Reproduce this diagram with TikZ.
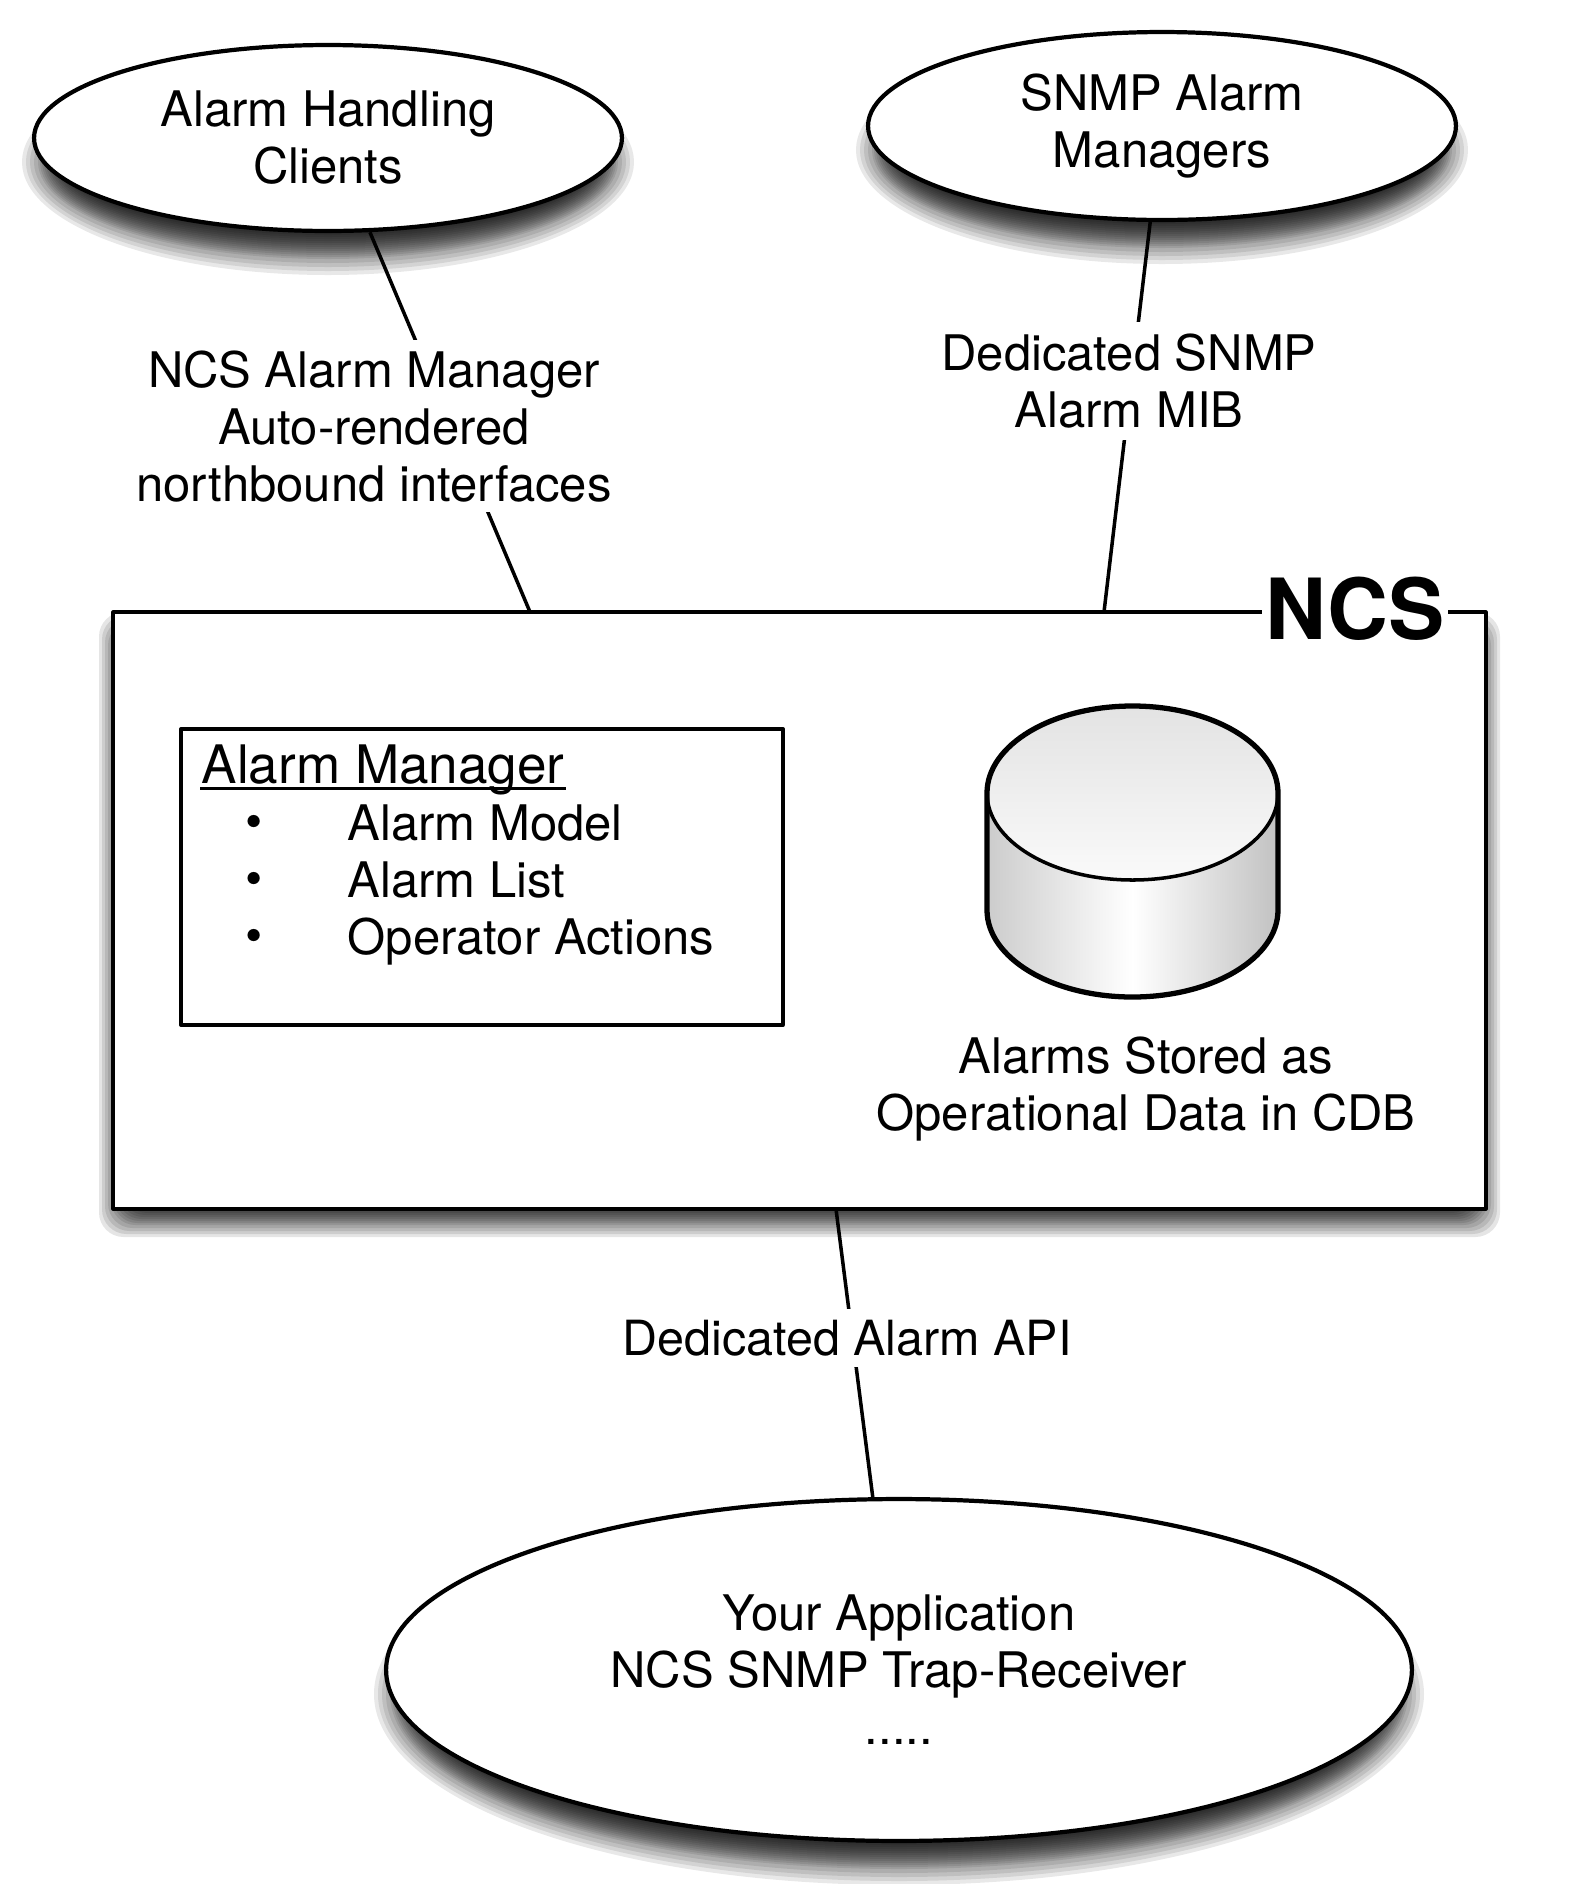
\documentclass[tikz,border=0pt]{standalone}
\usepackage{fontspec}
\setmainfont{TeX Gyre Heros}
\usetikzlibrary{shapes.geometric}
\newcommand{\bodyfont}{\fontsize{27.9}{32.4}\selectfont}
% soft shadow under an oval: centre x, centre y, x radius, y radius
\newcommand{\ovalshadow}[4]{
    \foreach \d in {-24,-22,...,4,8,12,16,20}
        \fill[black, opacity=0.09] (#1, #2+24) ellipse[x radius={#3-8+\d}, y radius={#4+\d}];
}
\begin{document}
\begin{tikzpicture}[x=0.02cm, y=-0.02cm, line width=2pt, line join=round,
    every node/.style={font=\bodyfont, align=center},
    endpoint/.style={ellipse, draw, fill=white, inner sep=0pt, line width=2.4pt},
    label/.style={fill=white, inner sep=0pt, text depth=0pt},
    item/.style={anchor=base west, inner sep=0pt},
    dot/.style={inner sep=0pt, font=\fontsize{28}{30}\selectfont}]
    \useasboundingbox (0, 0) rectangle (1580, 1884);
    \fill[white] (0, 0) rectangle (1580, 1884);
    % shadows
    \ovalshadow{328}{138}{294}{93}
    \ovalshadow{1162}{126}{294}{94}
    \ovalshadow{899}{1670}{513}{171}
    \foreach \d in {-14,-12,...,2,5,8,11,14}
        \fill[black, opacity=0.1, rounded corners=14] (113-\d, 612+14-\d) rectangle (1486+\d, 1209+14+\d);
    % outer nodes
    \node[endpoint, minimum width=11.76cm, minimum height=3.72cm] (clients) at (328, 138) {Alarm Handling\\Clients};
    \node[endpoint, minimum width=11.76cm, minimum height=3.76cm] (managers) at (1162, 126) {SNMP Alarm\\Managers};
    \node[endpoint, minimum width=20.52cm, minimum height=6.84cm] (app) at (899, 1670) {Your Application\\NCS SNMP Trap-Receiver\\.....};
    \node[draw, fill=white, minimum width=27.46cm, minimum height=11.94cm] (ncs) at (799.5, 910.5) {};
    % connectors
    \coordinate (ncsleft) at (530, 612);
    \coordinate (ncsright) at (1104, 612);
    \coordinate (ncsbottom) at (836, 1209);
    \coordinate (apptop) at (873, 1499);
    \draw (clients.-66) -- (ncsleft);
    \draw (managers.-97) -- (ncsright);
    \draw (ncsbottom) -- (apptop);
    \node[label, minimum width=9.6cm, minimum height=3.46cm] (northbound) at (374, 426) {NCS Alarm Manager\\Auto-rendered\\northbound interfaces};
    \node[label, minimum width=7.7cm, minimum height=2.36cm] (snmpmib) at (1129, 381) {Dedicated SNMP\\Alarm MIB};
    \node[label, minimum width=9.2cm, minimum height=1.16cm, font=\fontsize{27.6}{32.4}\selectfont] (alarmapi) at (847, 1338) {Dedicated Alarm API};
    \node[fill=white, inner sep=0pt, minimum width=3.72cm, font=\fontsize{48}{50}\selectfont\bfseries] (ncstitle) at (1355, 609) {NCS};
    % alarm manager box
    \node[draw, minimum width=12.04cm, minimum height=5.92cm] (manager) at (482, 877) {};
    \node[item, font=\fontsize{30.2}{34}\selectfont] (title) at (200, 783) {Alarm Manager};
    \draw ([yshift=-3pt]title.base west) -- ([yshift=-3pt]title.base east);
    \node[item] (model) at (346, 840) {Alarm Model};
    \node[item] (list) at (346, 897) {Alarm List};
    \node[item] (actions) at (346, 954) {Operator Actions};
    \node[dot] (dota) at (254, 827) {\textbullet};
    \node[dot] (dotb) at (254, 884) {\textbullet};
    \node[dot] (dotc) at (254, 941) {\textbullet};
    % database
    \fill[left color=black!20, right color=black!24, middle color=white] (987, 793) -- (987, 910) arc[start angle=180, end angle=0, x radius=145.5, y radius=87] -- (1278, 793) -- cycle;
    \shade[top color=black!11, bottom color=black!2] (1132.5, 793) ellipse[x radius=145.5, y radius=87];
    \draw (1132.5, 793) ellipse[x radius=145.5, y radius=87];
    \draw[line width=3pt] (987, 793) arc[start angle=180, end angle=360, x radius=145.5, y radius=87] -- (1278, 910) arc[start angle=0, end angle=180, x radius=145.5, y radius=87] -- cycle;
    \node[inner sep=0pt] (stored) at (1146, 1089) {Alarms Stored as\\Operational Data in CDB};
\end{tikzpicture}
\end{document}
